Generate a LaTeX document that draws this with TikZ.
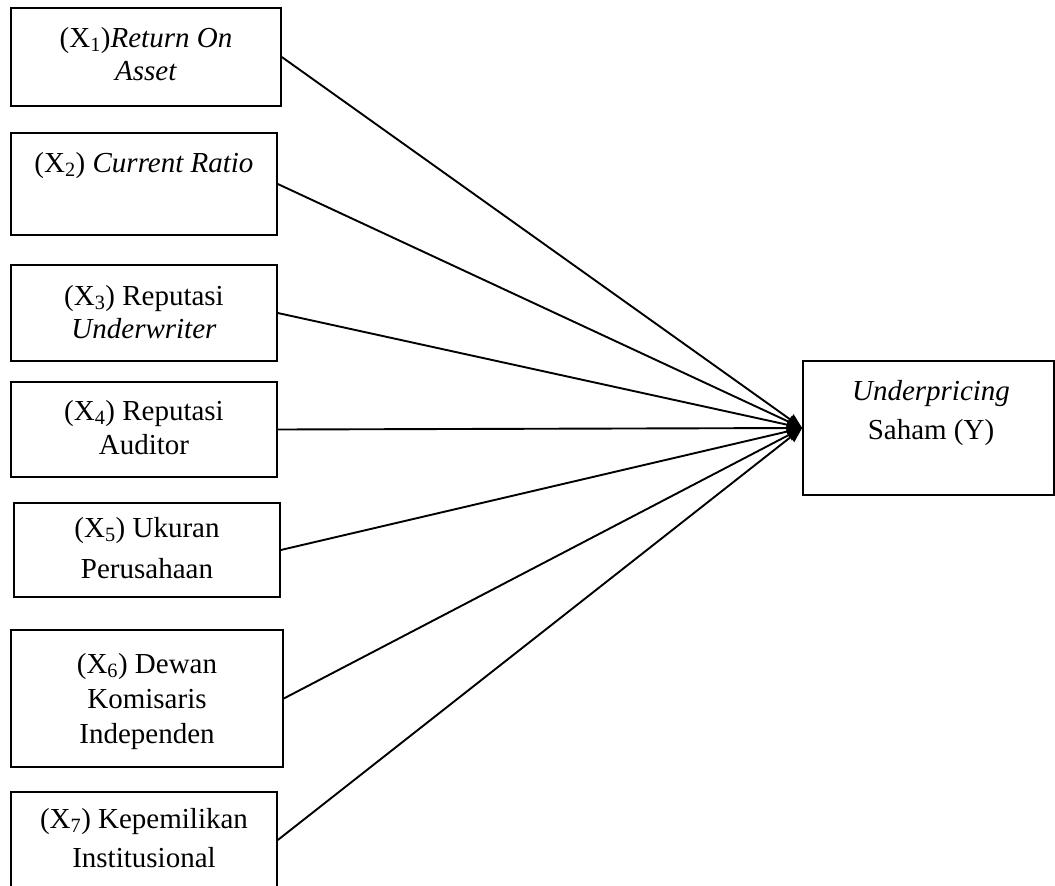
\documentclass[tikz,border=0pt]{standalone}
\usepackage{fontspec}
\setmainfont{Liberation Serif}
\usetikzlibrary{arrows.meta}
\begin{document}
\begin{tikzpicture}[x=1pt,y=-1pt,
  box/.style={draw, line width=1.6pt, inner sep=0pt, rectangle},
  lbl/.style={anchor=base, inner sep=0pt, font=\fontsize{29}{34}\selectfont},
  link/.style={line width=1.9pt, -{Triangle[length=15pt,width=12pt]}}]
\useasboundingbox (0,0) rectangle (1055,886);
\clip (0,0) rectangle (1055,886);
% boxes
\node[box, minimum width=270pt, minimum height=98pt] (b1) at (146,57) {};
\node[box, minimum width=266pt, minimum height=102pt] (b2) at (144,184) {};
\node[box, minimum width=266pt, minimum height=96pt] (b3) at (144,313) {};
\node[box, minimum width=266pt, minimum height=95pt] (b4) at (144,429.5) {};
\node[box, minimum width=266pt, minimum height=94pt] (b5) at (147,550) {};
\node[box, minimum width=272pt, minimum height=137pt] (b6) at (147,698.5) {};
\node[box, minimum width=266pt, minimum height=96pt] (b7) at (144,840) {};
\node[box, minimum width=251pt, minimum height=134pt] (by) at (928.5,428) {};
% labels
\node[lbl] (t1a) at (146,47) {(X\textsubscript{1})\textit{Return On}};
\node[lbl] (t1b) at (146,80) {\textit{Asset}};
\node[lbl] (t2a) at (144,172) {(X\textsubscript{2}) \textit{Current Ratio}};
\node[lbl] (t3a) at (144,305) {(X\textsubscript{3}) Reputasi};
\node[lbl] (t3b) at (144,338) {\textit{Underwriter}};
\node[lbl] (t4a) at (144,420) {(X\textsubscript{4}) Reputasi};
\node[lbl] (t4b) at (144,454) {Auditor};
\node[lbl] (t5a) at (147,537) {(X\textsubscript{5}) Ukuran};
\node[lbl] (t5b) at (147,578) {Perusahaan};
\node[lbl] (t6a) at (147,673) {(X\textsubscript{6}) Dewan};
\node[lbl] (t6b) at (147,708) {Komisaris};
\node[lbl] (t6c) at (147,743) {Independen};
\node[lbl] (t7a) at (144,828) {(X\textsubscript{7}) Kepemilikan};
\node[lbl] (t7b) at (144,867) {Institusional};
\node[lbl] (tya) at (931,400) {\textit{Underpricing}};
\node[lbl] (tyb) at (931,439) {Saham (Y)};
% connectors
\foreach \b in {b1,b2,b3,b4,b5,b6,b7}
  \draw[link] (\b.east) -- (by.west);
\end{tikzpicture}
\end{document}
